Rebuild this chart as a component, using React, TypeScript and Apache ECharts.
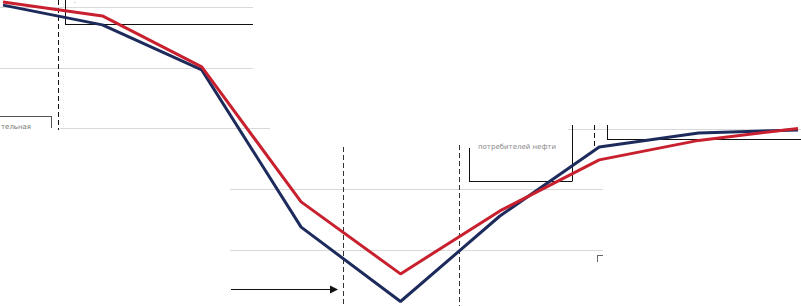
import React, { useEffect, useRef } from "react";
import * as echarts from "echarts";

const categories = ["1", "2", "3", "4", "5", "6", "7", "8", "9"];
const seriesNavy = [98.3, 91.7, 76.7, 24.3, -0.5, 28, 51, 55.7, 56.7];
const seriesRed = [99.3, 94.7, 77.7, 32.7, 8.7, 29.7, 46.7, 53.2, 57.2];
const yMin = -2;
const yMax = 100;

const NAVY = "#1d2b5c";
const RED = "#c8202e";
const GRID = "#d9d9d9";
const BLACK = "#111111";

export default function App() {
  const ref = useRef<HTMLDivElement>(null);
  useEffect(() => {
    if (!ref.current) return;
    const chart = echarts.init(ref.current, null, { renderer: "svg" });
    const hline = (x1: number, x2: number, y: number, color: string, w = 1) => ({
      type: "line",
      shape: { x1, y1: y, x2, y2: y },
      style: { stroke: color, lineWidth: w },
      silent: true,
    });
    const vline = (x: number, y1: number, y2: number, color: string, dash = false, w = 1) => ({
      type: "line",
      shape: { x1: x, y1, x2: x, y2 },
      style: { stroke: color, lineWidth: w, lineDash: dash ? [5, 3] : undefined },
      silent: true,
    });
    chart.setOption({
      animation: false,
      grid: { left: 3, right: 3, top: 0, bottom: 0 },
      xAxis: {
        type: "category",
        data: categories,
        boundaryGap: false,
        show: false,
      },
      yAxis: {
        type: "value",
        min: yMin,
        max: yMax,
        show: false,
        splitLine: { show: false },
      },
      graphic: [
        { ...hline(0, 253, 7.5, GRID), z: 0 },
        { ...hline(0, 253, 68.5, GRID), z: 0 },
        { ...hline(60, 270, 128.5, GRID), z: 0 },
        { ...hline(568, 801, 129.5, GRID), z: 0 },
        { ...hline(230, 603, 189.5, GRID), z: 0 },
        { ...hline(230, 603, 250.5, GRID), z: 0 },
        // top box
        vline(65.5, 0, 24.5, BLACK),
        hline(65, 253, 24.5, BLACK),
        {
          type: "text",
          x: 74,
          y: 0,
          style: { text: "'", fill: "#999999", font: "6px 'DejaVu Sans'" },
        },
        // left box
        hline(0, 51, 116.5, "#555555"),
        vline(51.5, 116, 128, "#555555"),
        {
          type: "text",
          x: 1,
          y: 123,
          style: { text: "тельная", fill: "#777777", font: "7px 'DejaVu Sans'" },
        },
        // middle box
        vline(469.5, 148, 181.5, BLACK),
        hline(469, 572, 181.5, BLACK),
        vline(572.5, 125, 181.5, BLACK),
        {
          type: "text",
          x: 478,
          y: 143,
          style: { text: "потребителей нефти", fill: "#888888", font: "7px 'DejaVu Sans'" },
        },
        // right box
        vline(607.5, 125, 139.5, BLACK),
        hline(607, 801, 139.5, BLACK),
        // small corner
        hline(597, 603, 255.5, "#666666"),
        vline(597.5, 255, 262, "#666666"),
        // dashed verticals
        vline(58.5, 0, 130, BLACK, true),
        vline(343.5, 147, 306, "#333333", true),
        vline(459.5, 145, 306, "#333333", true),
        vline(594.5, 125, 147, BLACK, true),
        // arrow
        hline(231, 331, 289.5, BLACK),
        {
          type: "polygon",
          shape: { points: [[330, 285.5], [338, 289.5], [330, 293.5]] },
          style: { fill: BLACK },
        },
      ],
      series: [
        {
          type: "line",
          data: seriesNavy,
          symbol: "none",
          lineStyle: { color: NAVY, width: 3 },
          z: 3,
        },
        {
          type: "line",
          data: seriesRed,
          symbol: "none",
          lineStyle: { color: RED, width: 3 },
          z: 4,
        },
      ],
    });
    return () => chart.dispose();
  }, []);
  return (
    <div
      ref={ref}
      style={{ position: "fixed", left: 0, top: 0, width: 801, height: 306, background: "#fff" }}
    />
  );
}
